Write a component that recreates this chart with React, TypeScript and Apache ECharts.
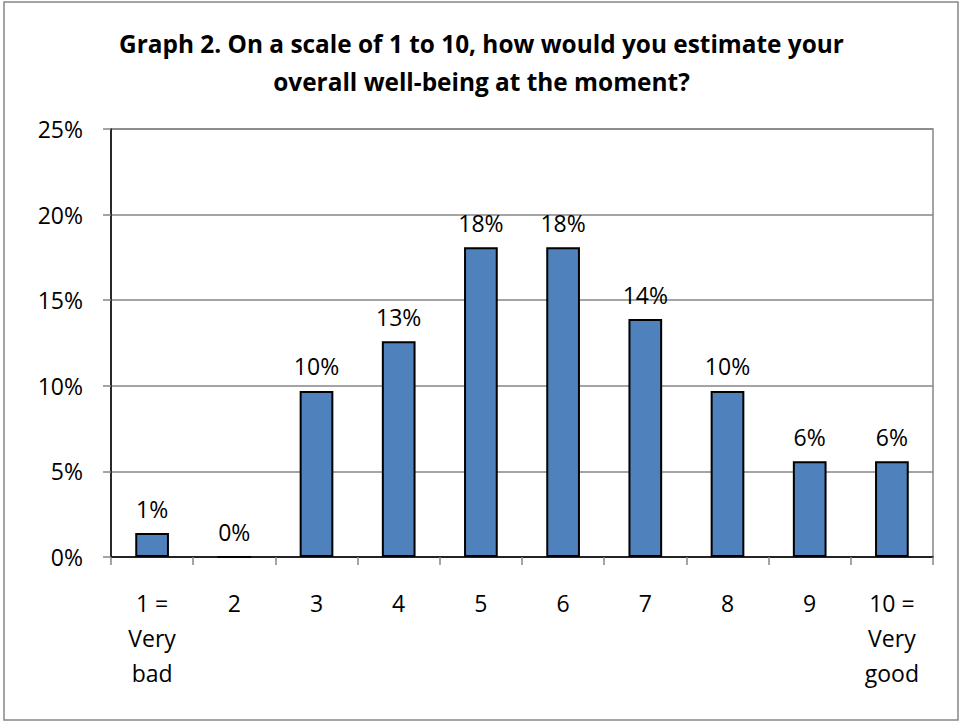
import React, { useEffect, useRef } from "react";
import * as echarts from "echarts";

const titleLines = [
  "Graph 2. On a scale of 1 to 10, how would you estimate your",
  "overall well-being at the moment?",
];
const categories = ["1 =\nVery\nbad", "2", "3", "4", "5", "6", "7", "8", "9", "10 =\nVery\ngood"];
const values = [1.4, 0, 9.7, 12.6, 18.1, 18.1, 13.9, 9.7, 5.6, 5.6];
const yMin = 0;
const yMax = 25;
const yStep = 5;

const FONT = "'Open Sans', Lato, sans-serif";

export default function App() {
  const ref = useRef<HTMLDivElement>(null);
  useEffect(() => {
    document.body.style.margin = "0";
    if (!ref.current) return;
    const chart = echarts.init(ref.current, undefined, { renderer: "svg" });
    chart.setOption({
      animation: false,
      backgroundColor: "#ffffff",
      title: {
        text: titleLines.join("\n"),
        left: "center",
        top: 19,
        textStyle: {
          fontFamily: FONT,
          fontWeight: "bold",
          fontSize: 24.4,
          lineHeight: 38,
          color: "#000",
        },
      },
      graphic: [
        {
          type: "rect",
          shape: { x: 4, y: 2, width: 954, height: 718 },
          style: { fill: "none", stroke: "#868686", lineWidth: 1.5 },
          silent: true,
        },
      ],
      grid: {
        left: 111,
        right: 30,
        top: 129,
        bottom: 164,
        show: true,
        borderColor: "#868686",
        borderWidth: 1.5,
        containLabel: false,
      },
      xAxis: {
        type: "category",
        data: categories,
        axisLine: { show: true, lineStyle: { color: "#000", width: 1.5 } },
        axisTick: { show: true, length: 8, alignWithLabel: false, lineStyle: { color: "#868686", width: 1.5 } },
        axisLabel: {
          fontFamily: FONT,
          fontSize: 23,
          color: "#000",
          lineHeight: 35,
          margin: 28,
          interval: 0,
        },
      },
      yAxis: {
        type: "value",
        min: yMin,
        max: yMax,
        interval: yStep,
        axisLine: { show: true, lineStyle: { color: "#000", width: 1.5 } },
        axisTick: { show: true, length: 8, lineStyle: { color: "#868686", width: 1.5 } },
        splitLine: { show: true, lineStyle: { color: "#868686", width: 1.5 } },
        axisLabel: {
          fontFamily: FONT,
          fontSize: 23,
          color: "#000",
          margin: 28,
          formatter: (v: number) => `${v}%`,
        },
      },
      series: [
        {
          type: "bar",
          data: values,
          barWidth: "41%",
          itemStyle: { color: "#4F81BD", borderColor: "#000", borderWidth: 2 },
          label: {
            show: true,
            position: "top",
            distance: 13,
            fontFamily: FONT,
            fontSize: 23,
            color: "#000",
            formatter: (p: any) => `${Math.round(p.value)}%`,
          },
        },
      ],
    });
    return () => chart.dispose();
  }, []);
  return <div ref={ref} style={{ width: 963, height: 721 }} />;
}
